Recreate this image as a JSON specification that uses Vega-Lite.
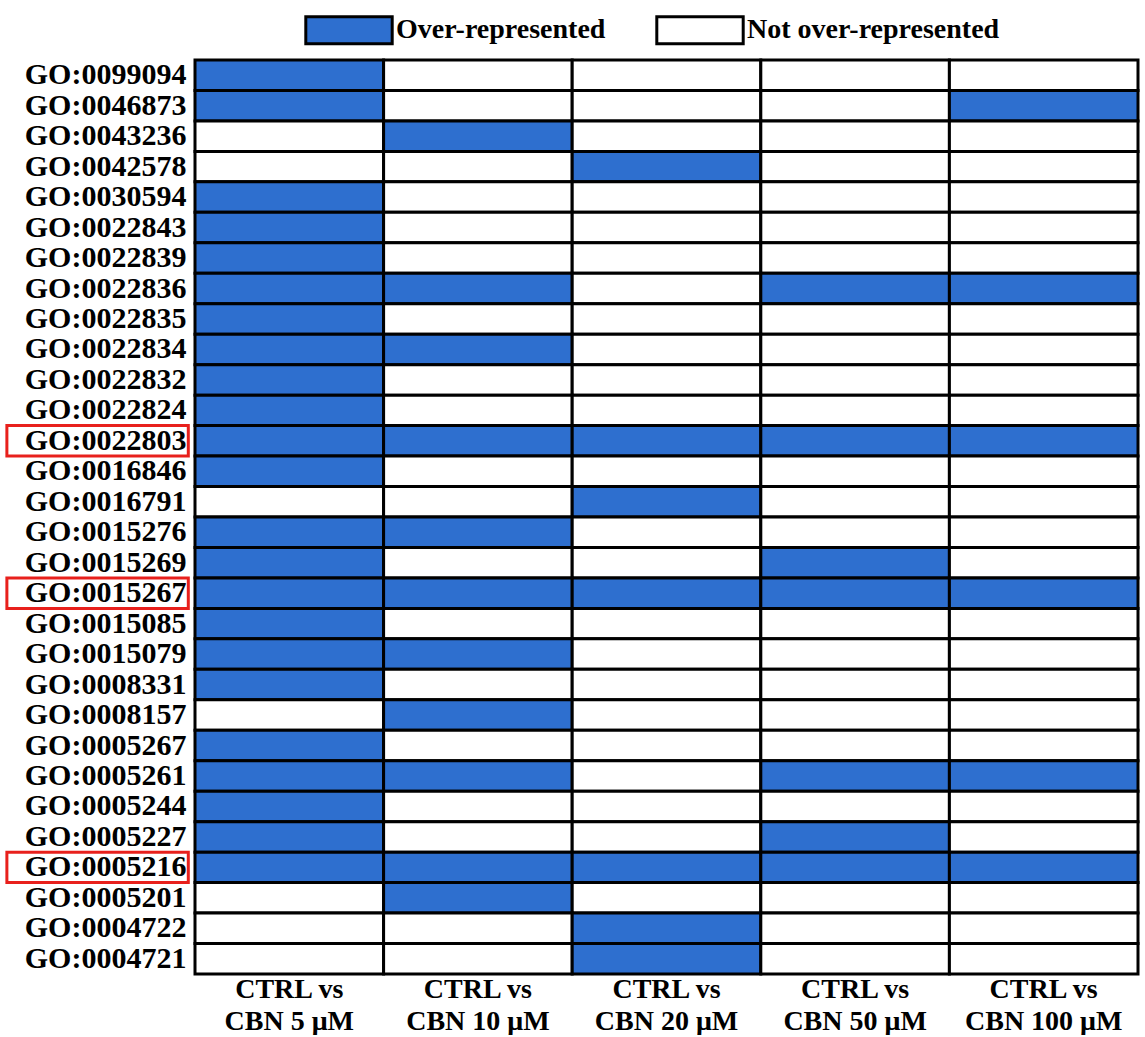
{
  "$schema": "https://vega.github.io/schema/vega-lite/v6.json",
  "padding": {"left": 5, "top": 15, "right": 5, "bottom": 0},
  "config": {"view": {"stroke": null}, "font": "Liberation Serif"},
  "spacing": 0,
  "data": {"values": [
    {"go": "GO:0099094", "hl": 0, "5 μM": 1, "10 μM": 0, "20 μM": 0, "50 μM": 0, "100 μM": 0},
    {"go": "GO:0046873", "hl": 0, "5 μM": 1, "10 μM": 0, "20 μM": 0, "50 μM": 0, "100 μM": 1},
    {"go": "GO:0043236", "hl": 0, "5 μM": 0, "10 μM": 1, "20 μM": 0, "50 μM": 0, "100 μM": 0},
    {"go": "GO:0042578", "hl": 0, "5 μM": 0, "10 μM": 0, "20 μM": 1, "50 μM": 0, "100 μM": 0},
    {"go": "GO:0030594", "hl": 0, "5 μM": 1, "10 μM": 0, "20 μM": 0, "50 μM": 0, "100 μM": 0},
    {"go": "GO:0022843", "hl": 0, "5 μM": 1, "10 μM": 0, "20 μM": 0, "50 μM": 0, "100 μM": 0},
    {"go": "GO:0022839", "hl": 0, "5 μM": 1, "10 μM": 0, "20 μM": 0, "50 μM": 0, "100 μM": 0},
    {"go": "GO:0022836", "hl": 0, "5 μM": 1, "10 μM": 1, "20 μM": 0, "50 μM": 1, "100 μM": 1},
    {"go": "GO:0022835", "hl": 0, "5 μM": 1, "10 μM": 0, "20 μM": 0, "50 μM": 0, "100 μM": 0},
    {"go": "GO:0022834", "hl": 0, "5 μM": 1, "10 μM": 1, "20 μM": 0, "50 μM": 0, "100 μM": 0},
    {"go": "GO:0022832", "hl": 0, "5 μM": 1, "10 μM": 0, "20 μM": 0, "50 μM": 0, "100 μM": 0},
    {"go": "GO:0022824", "hl": 0, "5 μM": 1, "10 μM": 0, "20 μM": 0, "50 μM": 0, "100 μM": 0},
    {"go": "GO:0022803", "hl": 1, "5 μM": 1, "10 μM": 1, "20 μM": 1, "50 μM": 1, "100 μM": 1},
    {"go": "GO:0016846", "hl": 0, "5 μM": 1, "10 μM": 0, "20 μM": 0, "50 μM": 0, "100 μM": 0},
    {"go": "GO:0016791", "hl": 0, "5 μM": 0, "10 μM": 0, "20 μM": 1, "50 μM": 0, "100 μM": 0},
    {"go": "GO:0015276", "hl": 0, "5 μM": 1, "10 μM": 1, "20 μM": 0, "50 μM": 0, "100 μM": 0},
    {"go": "GO:0015269", "hl": 0, "5 μM": 1, "10 μM": 0, "20 μM": 0, "50 μM": 1, "100 μM": 0},
    {"go": "GO:0015267", "hl": 1, "5 μM": 1, "10 μM": 1, "20 μM": 1, "50 μM": 1, "100 μM": 1},
    {"go": "GO:0015085", "hl": 0, "5 μM": 1, "10 μM": 0, "20 μM": 0, "50 μM": 0, "100 μM": 0},
    {"go": "GO:0015079", "hl": 0, "5 μM": 1, "10 μM": 1, "20 μM": 0, "50 μM": 0, "100 μM": 0},
    {"go": "GO:0008331", "hl": 0, "5 μM": 1, "10 μM": 0, "20 μM": 0, "50 μM": 0, "100 μM": 0},
    {"go": "GO:0008157", "hl": 0, "5 μM": 0, "10 μM": 1, "20 μM": 0, "50 μM": 0, "100 μM": 0},
    {"go": "GO:0005267", "hl": 0, "5 μM": 1, "10 μM": 0, "20 μM": 0, "50 μM": 0, "100 μM": 0},
    {"go": "GO:0005261", "hl": 0, "5 μM": 1, "10 μM": 1, "20 μM": 0, "50 μM": 1, "100 μM": 1},
    {"go": "GO:0005244", "hl": 0, "5 μM": 1, "10 μM": 0, "20 μM": 0, "50 μM": 0, "100 μM": 0},
    {"go": "GO:0005227", "hl": 0, "5 μM": 1, "10 μM": 0, "20 μM": 0, "50 μM": 1, "100 μM": 0},
    {"go": "GO:0005216", "hl": 1, "5 μM": 1, "10 μM": 1, "20 μM": 1, "50 μM": 1, "100 μM": 1},
    {"go": "GO:0005201", "hl": 0, "5 μM": 0, "10 μM": 1, "20 μM": 0, "50 μM": 0, "100 μM": 0},
    {"go": "GO:0004722", "hl": 0, "5 μM": 0, "10 μM": 0, "20 μM": 1, "50 μM": 0, "100 μM": 0},
    {"go": "GO:0004721", "hl": 0, "5 μM": 0, "10 μM": 0, "20 μM": 1, "50 μM": 0, "100 μM": 0}
  ]},
  "hconcat": [
    {
      "width": 188,
      "height": 914,
      "layer": [
        {
          "mark": {"type": "text", "align": "right", "baseline": "middle", "fontSize": 30, "fontWeight": "bold", "font": "Liberation Serif", "color": "black"},
          "encoding": {
            "y": {"field": "go", "type": "nominal", "sort": null, "axis": null,
                  "scale": {"paddingInner": 0, "paddingOuter": 0, "domain": ["GO:0099094","GO:0046873","GO:0043236","GO:0042578","GO:0030594","GO:0022843","GO:0022839","GO:0022836","GO:0022835","GO:0022834","GO:0022832","GO:0022824","GO:0022803","GO:0016846","GO:0016791","GO:0015276","GO:0015269","GO:0015267","GO:0015085","GO:0015079","GO:0008331","GO:0008157","GO:0005267","GO:0005261","GO:0005244","GO:0005227","GO:0005216","GO:0005201","GO:0004722","GO:0004721"]}},
            "x": {"datum": 0.965, "type": "quantitative", "scale": {"domain": [0, 1]}, "axis": null},
            "text": {"field": "go"}
          }
        },
        {
          "transform": [{"filter": "datum.hl == 1"}],
          "mark": {"type": "rect", "filled": false, "color": "#e8201c", "strokeWidth": 3},
          "encoding": {
            "y": {"field": "go", "type": "nominal", "sort": null, "axis": null},
            "x": {"datum": 0.01, "type": "quantitative"},
            "x2": {"datum": 0.975}
          }
        }
      ]
    },
    {
      "width": 943,
      "height": 914,
      "transform": [{"fold": ["5 μM", "10 μM", "20 μM", "50 μM", "100 μM"], "as": ["cmp", "val"]}],
      "mark": {"type": "rect", "stroke": "black", "strokeWidth": 3},
      "encoding": {
        "x": {"field": "cmp", "type": "nominal", "sort": null,
              "scale": {"domain": ["5 μM", "10 μM", "20 μM", "50 μM", "100 μM"], "paddingInner": 0, "paddingOuter": 0},
              "axis": {"orient": "bottom", "title": null, "domain": false, "ticks": false, "labelAngle": 0,
                       "labelFont": "Liberation Serif", "labelFontWeight": "bold", "labelFontSize": 28, "labelColor": "black",
                       "labelPadding": 1, "labelLineHeight": 32, "labelLimit": 300,
                       "labelExpr": "['CTRL vs', 'CBN ' + datum.value]"}},
        "y": {"field": "go", "type": "nominal", "sort": null, "axis": null,
              "scale": {"paddingInner": 0, "paddingOuter": 0, "domain": ["GO:0099094","GO:0046873","GO:0043236","GO:0042578","GO:0030594","GO:0022843","GO:0022839","GO:0022836","GO:0022835","GO:0022834","GO:0022832","GO:0022824","GO:0022803","GO:0016846","GO:0016791","GO:0015276","GO:0015269","GO:0015267","GO:0015085","GO:0015079","GO:0008331","GO:0008157","GO:0005267","GO:0005261","GO:0005244","GO:0005227","GO:0005216","GO:0005201","GO:0004722","GO:0004721"]}},
        "color": {"field": "val", "type": "nominal",
                  "scale": {"domain": [1, 0], "range": ["#2E6FCF", "#ffffff"]},
                  "legend": {"title": null, "orient": "none", "legendX": 329, "legendY": -45, "direction": "horizontal", "columns": 2,
                             "symbolType": "M-3.2,-1H3.2V1H-3.2Z", "symbolSize": 729, "symbolStrokeColor": "black", "symbolStrokeWidth": 3,
                             "labelFont": "Liberation Serif", "labelFontWeight": "bold", "labelFontSize": 28, "labelColor": "black",
                             "labelOffset": 32, "columnPadding": 44, "labelLimit": 400,
                             "labelExpr": "datum.value == 1 ? 'Over-represented' : 'Not over-represented'"}}
      }
    }
  ]
}
